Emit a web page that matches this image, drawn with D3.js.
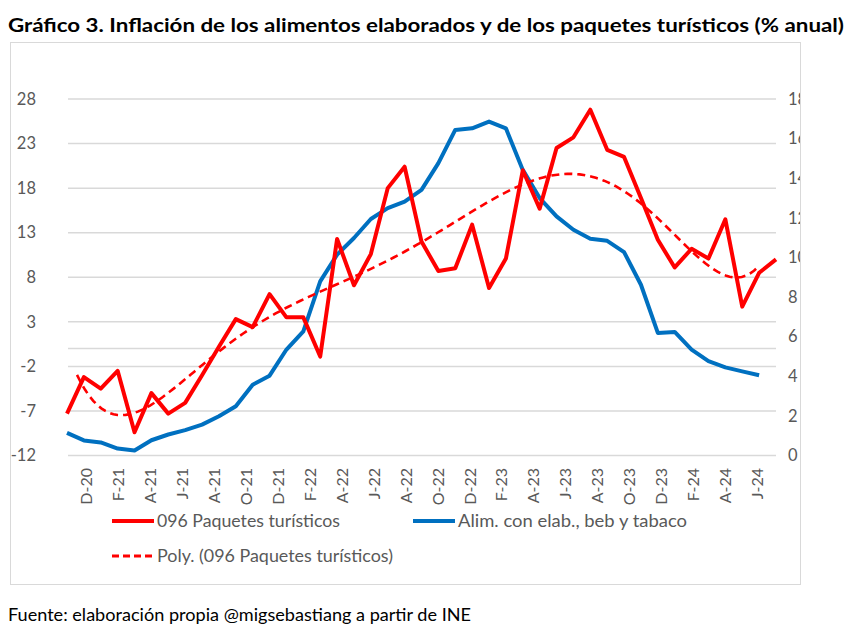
<!DOCTYPE html>
<html><head><meta charset="utf-8">
<script src="https://cdn.jsdelivr.net/npm/d3@7"></script>
<style>body{margin:0;background:#fff}svg{display:block}</style>
</head><body>
<svg id="c" width="854" height="640"></svg>
<script>
// ---- data ----
const tickLabels = ["D-20","F-21","A-21","J-21","A-21","O-21","D-21","F-22","A-22","J-22","A-22","O-22","D-22","F-23","A-23","J-23","A-23","O-23","D-23","F-24","A-24","J-24"];
const paquetes = [-7.3,-3.2,-4.5,-2.5,-9.4,-5.0,-7.3,-6.1,-3.0,0.2,3.3,2.4,6.1,3.5,3.5,-0.9,12.3,7.1,10.6,18.0,20.4,12.0,8.7,9.0,13.9,6.8,10.1,20.0,15.7,22.5,23.7,26.8,22.3,21.5,16.9,12.2,9.1,11.2,10.1,14.5,4.7,8.5,10.0];
const alimentos = [1.14,0.76,0.66,0.35,0.25,0.77,1.06,1.28,1.56,1.98,2.49,3.57,4.03,5.35,6.27,8.79,10.14,10.98,11.94,12.49,12.82,13.41,14.76,16.44,16.52,16.86,16.52,14.42,13.0,12.07,11.4,10.94,10.84,10.27,8.62,6.19,6.24,5.35,4.76,4.45,4.25,4.05];
const leftTicks = [-12,-7,-2,3,8,13,18,23,28];
const rightTicks = [0,2,4,6,8,10,12,14,16,18];
const seriesNames = ["096 Paquetes turísticos","Alim. con elab., beb y tabaco","Poly. (096 Paquetes turísticos)"];
const polyOrder = 6;

// ---- polynomial trendline (least squares, like the spreadsheet trendline) ----
function polyFit(ys, order){
  const n = ys.length, c = (n-1)/2;
  const xs = ys.map((_,i)=>(i-c)/c);
  const m = order+1;
  const A = Array.from({length:m},()=>new Array(m+1).fill(0));
  for(let k=0;k<n;k++){
    const p=[]; for(let j=0;j<m;j++) p.push(Math.pow(xs[k],j));
    for(let r=0;r<m;r++){ for(let s=0;s<m;s++) A[r][s]+=p[r]*p[s]; A[r][m]+=p[r]*ys[k]; }
  }
  for(let i=0;i<m;i++){
    let piv=i; for(let r=i+1;r<m;r++) if(Math.abs(A[r][i])>Math.abs(A[piv][i])) piv=r;
    [A[i],A[piv]]=[A[piv],A[i]];
    for(let r=0;r<m;r++){ if(r===i) continue; const f=A[r][i]/A[i][i]; for(let s=i;s<=m;s++) A[r][s]-=f*A[i][s]; }
  }
  const coef = A.map((row,i)=>row[m]/row[i]);
  return t => { const x=(t-c)/c; let v=0; for(let j=m-1;j>=0;j--) v=v*x+coef[j]; return v; };
}
const trend = polyFit(paquetes, polyOrder);
const trendPts = d3.range(0, paquetes.length-1+0.001, 0.25);

// ---- drawing ----
const svg = d3.select("#c");
const red = "#FF0000", blue = "#0070C0", grey = "#595959", gridC = "#d9d9d9";
const font = "Lato, 'Noto Sans', sans-serif";

svg.append("text").attr("x",8).attr("y",32).attr("font-family",font).attr("font-weight",700)
  .attr("font-size",19).attr("fill","#000").attr("textLength",836).attr("lengthAdjust","spacingAndGlyphs")
  .text("Gráfico 3. Inflación de los alimentos elaborados y de los paquetes turísticos (% anual)");

svg.append("defs").append("clipPath").attr("id","frame").append("rect")
  .attr("x",10).attr("y",42).attr("width",790).attr("height",543);

svg.append("rect").attr("x",10.5).attr("y",42.5).attr("width",790).attr("height",542)
  .attr("fill","#fff").attr("stroke",gridC).attr("stroke-width",1);

const g = svg.append("g").attr("clip-path","url(#frame)");

const x = d3.scalePoint().domain(d3.range(paquetes.length)).range([67,776]);
const xLab = d3.scalePoint().domain(d3.range(tickLabels.length)).range([86,757]);
const xTrend = d3.scaleLinear().domain([0,paquetes.length-1]).range([77,758]);
const yL = d3.scaleLinear().domain([-12,28]).range([455.5,99]);
const yR = d3.scaleLinear().domain([0,18]).range([455.5,99]);

// gridlines
g.append("g").selectAll("line").data(leftTicks).join("line")
  .attr("x1",68).attr("x2",776).attr("y1",d=>yL(d)).attr("y2",d=>yL(d))
  .attr("stroke",gridC).attr("stroke-width",1.5);
// category axis line at 0
g.append("line").attr("x1",68).attr("x2",776).attr("y1",yL(0)).attr("y2",yL(0))
  .attr("stroke",gridC).attr("stroke-width",1.5);

// left axis
const axL = d3.axisLeft(yL).tickValues(leftTicks).tickFormat(d=>String(d)).tickSize(0).tickPadding(0);
const gL = g.append("g").attr("transform","translate(36,0)").call(axL);
gL.select(".domain").remove();
gL.selectAll("text").attr("font-family",font).attr("font-size",16.5).attr("fill",grey);

// right axis
const axR = d3.axisRight(yR).tickValues(rightTicks).tickFormat(d=>String(d)).tickSize(0).tickPadding(0);
const gR = g.append("g").attr("transform","translate(788,0)").call(axR);
gR.select(".domain").remove();
gR.selectAll("text").attr("font-family",font).attr("font-size",16.5).attr("fill",grey);

// x labels
const axX = d3.axisBottom(xLab).tickFormat(i=>tickLabels[i]).tickSize(0);
const gX = g.append("g").attr("transform","translate(0,468)").call(axX);
gX.select(".domain").remove();
gX.selectAll(".tick text").attr("font-family",font).attr("font-size",16).attr("fill",grey)
  .attr("transform","rotate(-90)").attr("text-anchor","end").attr("x",0).attr("y",0)
  .attr("dy","0.35em");

// lines
g.append("path").datum(alimentos).attr("fill","none").attr("stroke",blue).attr("stroke-width",4)
  .attr("stroke-linejoin","round")
  .attr("d", d3.line().x((d,i)=>x(i)).y(d=>yR(d)));
g.append("path").datum(paquetes).attr("fill","none").attr("stroke",red).attr("stroke-width",4)
  .attr("stroke-linejoin","round")
  .attr("d", d3.line().x((d,i)=>x(i)).y(d=>yL(d)));
g.append("path").datum(trendPts).attr("fill","none").attr("stroke",red).attr("stroke-width",2.6)
  .attr("stroke-dasharray","8,5")
  .attr("d", d3.line().x(t=>xTrend(t)).y(t=>yL(trend(t))));

// legend
const leg = [
  {x:112, y:521, name:seriesNames[0], color:red, dash:null, w:183},
  {x:413, y:521, name:seriesNames[1], color:blue, dash:null, w:229},
  {x:112, y:556, name:seriesNames[2], color:red, dash:"7,4", w:236}
];
const lg = g.append("g").selectAll("g").data(leg).join("g").attr("transform",d=>`translate(${d.x},${d.y})`);
lg.append("line").attr("x1",0).attr("x2",42).attr("y1",0).attr("y2",0).attr("stroke",d=>d.color)
  .attr("stroke-width",d=>d.dash?3:4).attr("stroke-dasharray",d=>d.dash);
lg.append("text").attr("x",45).attr("y",0).attr("dy","0.35em").attr("font-family",font)
  .attr("font-size",17).attr("fill",grey).attr("textLength",d=>d.w).attr("lengthAdjust","spacingAndGlyphs")
  .text(d=>d.name);

svg.append("text").attr("x",8).attr("y",621).attr("font-family",font).attr("font-size",17)
  .attr("fill","#000").attr("textLength",463).attr("lengthAdjust","spacingAndGlyphs")
  .text("Fuente: elaboración propia @migsebastiang a partir de INE");
</script>
</body></html>
